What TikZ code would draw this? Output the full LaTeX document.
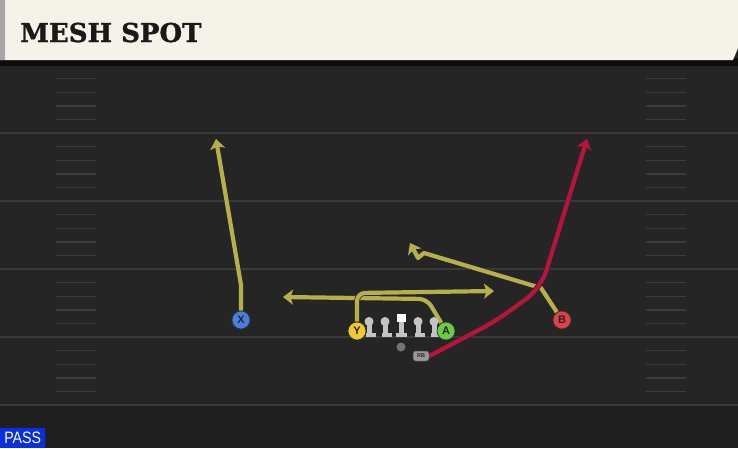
\documentclass[tikz,border=0pt]{standalone}
\usepackage{fontspec}
\usetikzlibrary{arrows.meta,positioning}
\newfontfamily\titlefont{DejaVu Serif}[BoldFeatures={FakeBold=1.2}]
\newfontfamily\labelfont{Liberation Sans}
\newfontfamily\passfont{Liberation Sans}[FakeStretch=0.86]
\definecolor{field}{HTML}{252525}
\definecolor{fieldline}{HTML}{3A3A3A}
\definecolor{hashline}{HTML}{3C3C3C}
\definecolor{header}{HTML}{F5F2EA}
\definecolor{routeyellow}{HTML}{B5B04A}
\definecolor{routered}{HTML}{B8143A}
\definecolor{xblue}{HTML}{4A7FE0}
\definecolor{yyellow}{HTML}{F0C830}
\definecolor{agreen}{HTML}{6CCC40}
\definecolor{bred}{HTML}{E0404A}
\definecolor{linegrey}{HTML}{C4C4C4}
\definecolor{passblue}{HTML}{0A2EE0}
\pgfdeclarelayer{background}
\pgfdeclarelayer{routes}
\pgfsetlayers{background,routes,main}
\tikzset{
    player/.style={circle,draw=black!80,line width=.7pt,minimum size=18pt,inner sep=0pt,
        font=\labelfont\bfseries\fontsize{11}{11}\selectfont,text=black!85},
    route/.style={line width=4.2pt,line join=round,draw=routeyellow,
        -{Stealth[length=10pt,width=15pt,inset=2.5pt]},preaction={draw=black!85,line width=5.6pt}},
    redroute/.style={route,draw=routered}
}

\begin{document}
\begin{tikzpicture}[x=1pt,y=-1pt]
    \useasboundingbox (0,0) rectangle (738,448);
    \begin{pgfonlayer}{background}
    % field
    \fill[field] (0,0) rectangle (738,448);
    \fill[black!88] (0,405) rectangle (738,448);
    \foreach \yl in {133,201,269,337,405}
        \draw[fieldline,line width=1.5pt] (0,\yl) -- (738,\yl);
    \foreach \yl in {65,133,201,269,337}
        \foreach \k in {1,...,4}
        {
            \draw[hashline,line width=1.4pt] (56,\yl+13.6*\k) -- (96,\yl+13.6*\k);
            \draw[hashline,line width=1.4pt] (646,\yl+13.6*\k) -- (686,\yl+13.6*\k);
        }
    % header
    \fill[black!95] (0,58) rectangle (738,66);
    \fill[header] (0,0) -- (738,0) -- (738,48) -- (733,60) -- (0,60) -- cycle;
    \fill[black!35] (0,0) rectangle (5,60);
    \end{pgfonlayer}
    \node[anchor=base west,inner sep=0pt,text=black!90,font=\titlefont\bfseries\fontsize{26}{26}\selectfont] (title) at (20,42) {MESH SPOT};

    % line
    \foreach \lx in {369,385,418,434}
    {
        \fill[linegrey] (\lx-2.5,322) rectangle (\lx+2.5,335);
        \fill[linegrey] (\lx,321.5) circle (4.5);
        \fill[linegrey] (\lx-3,333) rectangle (\lx+6.5,337);
    }
    \fill[linegrey] (398.5,322) rectangle (403.5,335);
    \fill[linegrey] (395.5,333) rectangle (407,337);
    \fill[white] (396.5,313.5) rectangle (405.5,322);

    % players
    \node[player,fill=xblue] (X) at (241,320) {X};
    \node[player,fill=yyellow] (Y) at (357,331) {Y};
    \node[player,fill=agreen] (A) at (446,331) {A};
    \node[player,fill=bred] (B) at (562,320) {B};
    \node[circle,fill=black!55,minimum size=9pt,inner sep=0pt] (QB) at (401,347) {};
    \node[rounded corners=2.5pt,fill=black!40,draw=black!70,line width=.5pt,minimum width=16pt,minimum height=10pt,inner sep=0pt,
        font=\labelfont\bfseries\fontsize{5.5}{5.5}\selectfont,text=black!85] (RB) at (421,356) {RB};

    % route ends
    \coordinate (Xend) at (216,139);
    \coordinate (Yend) at (494,291);
    \coordinate (Aend) at (283,297);
    \coordinate (Bend) at (410,243);
    \coordinate (RBend) at (587,139);

    \begin{pgfonlayer}{routes}
        \draw[route] (X) -- (241,285) -- (Xend);
        \draw[route,rounded corners=8pt] (A) -- (427,299) -- (Aend);
        \draw[route,rounded corners=8pt] (Y) -- (357,293) -- (Yend);
        \draw[route] (B) -- (541,288) -- (424,253) -- (418,258) -- (Bend);
        \draw[redroute,rounded corners=18pt] (RB.east) -- (496,321) -- (541,288) -- (RBend);
    \end{pgfonlayer}

    % play type
    \node[fill=passblue,anchor=south west,minimum width=45pt,minimum height=20pt,inner sep=0pt,
        text=white,font=\passfont\fontsize{16.5}{16.5}\selectfont] (pass) at (0,448) {PASS};
\end{tikzpicture}
\end{document}
